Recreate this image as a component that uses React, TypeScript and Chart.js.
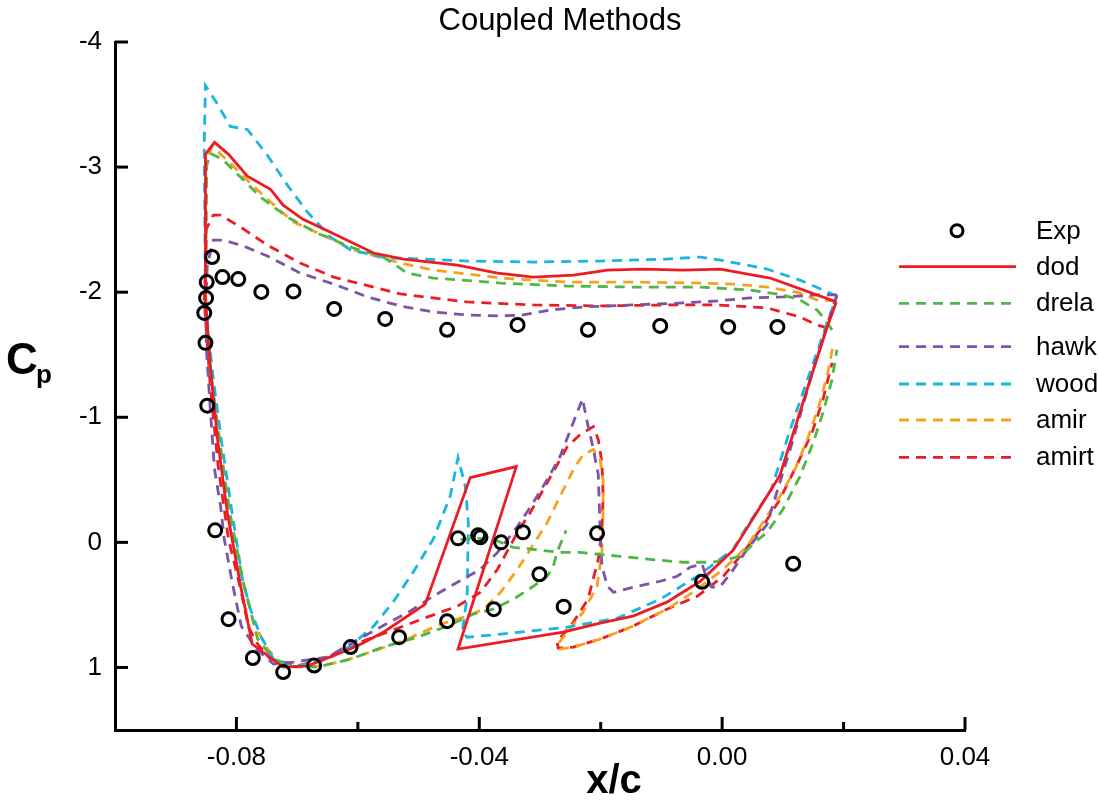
import React, { useEffect, useRef } from 'react';
import { Chart, registerables } from 'chart.js';

Chart.register(...registerables);

type P = [number, number | null];

// Experimental data (x/c, Cp)
const expData: P[] = [
  [-0.0840, -2.281], [-0.0849, -2.081], [-0.0823, -2.121], [-0.0797, -2.105], [-0.0850, -1.954],
  [-0.0853, -1.834], [-0.0759, -2.002], [-0.0706, -2.006], [-0.0639, -1.866], [-0.0555, -1.786],
  [-0.0453, -1.699], [-0.0337, -1.738], [-0.0221, -1.699], [-0.0102, -1.730], [0.0010, -1.722],
  [0.0091, -1.722], [-0.0851, -1.595], [-0.0848, -1.093], [-0.0835, -0.096], [-0.0813, 0.614],
  [-0.0773, 0.925], [-0.0723, 1.037], [-0.0672, 0.985], [-0.0612, 0.837], [-0.0532, 0.758],
  [-0.0453, 0.630], [-0.0376, 0.534], [-0.0435, -0.032], [-0.0402, -0.056], [-0.0398, -0.040],
  [-0.0364, 0.000], [-0.0328, -0.080], [-0.0301, 0.255], [-0.0261, 0.514], [-0.0206, -0.072],
  [-0.0033, 0.315], [0.0117, 0.171],
];

const dodData: P[] = [
  [0.0188, -1.922], [0.0079, -2.113], [-0.0003, -2.185], [-0.0064, -2.177], [-0.0130, -2.185],
  [-0.0189, -2.177], [-0.0245, -2.137], [-0.0311, -2.121], [-0.0370, -2.153], [-0.0436, -2.217],
  [-0.0525, -2.265], [-0.0574, -2.313], [-0.0645, -2.480], [-0.0691, -2.584], [-0.0723, -2.695],
  [-0.0744, -2.823], [-0.0782, -2.927], [-0.0813, -3.102], [-0.0836, -3.198], [-0.0851, -3.102],
  [-0.0851, -1.938], [-0.0843, -1.404], [-0.0831, -0.821], [-0.0815, -0.239], [-0.0793, 0.351],
  [-0.0774, 0.813], [-0.0723, 0.997], [-0.0683, 0.989], [-0.0601, 0.829], [-0.0558, 0.718],
  [-0.0489, 0.494], [-0.0415, -0.518], [-0.0339, -0.606], [-0.0435, 0.853], [-0.0262, 0.718],
  [-0.0201, 0.646], [-0.0147, 0.590], [-0.0091, 0.478], [-0.0036, 0.311], [0.0018, 0.064],
  [0.0095, -0.534], [0.0145, -1.300], [0.0173, -1.722], [0.0188, -1.922],
];

const drelaData: P[] = [
  [0.0181, -1.699], [0.0166, -1.802], [0.0156, -1.858], [0.0128, -1.938], [0.0100, -1.978],
  [0.0046, -2.018], [-0.0036, -2.041], [-0.0147, -2.041], [-0.0255, -2.049], [-0.0365, -2.073],
  [-0.0476, -2.113], [-0.0519, -2.153], [-0.0538, -2.217], [-0.0558, -2.281], [-0.0607, -2.352],
  [-0.0667, -2.472], [-0.0716, -2.600], [-0.0760, -2.759], [-0.0793, -2.919], [-0.0823, -3.062],
  [-0.0843, -3.110], [-0.0849, -3.014], [-0.0851, -1.938], [-0.0843, -1.380], [-0.0828, -0.821],
  [-0.0812, -0.263], [-0.0790, 0.295], [-0.0765, 0.774], [-0.0739, 0.933], [-0.0711, 0.989],
  [-0.0667, 0.997], [-0.0612, 0.933], [-0.0558, 0.837], [-0.0502, 0.758], [-0.0453, 0.670],
  [-0.0410, 0.574], [-0.0377, 0.534], [-0.0344, 0.455], [-0.0311, 0.351], [-0.0288, 0.271],
  [-0.0278, 0.191], [-0.0272, 0.080], [-0.0257, -0.096],
  [-0.0257, null],
  [-0.0431, -0.024], [-0.0403, -0.032], [-0.0377, -0.024], [-0.0344, 0.040], [-0.0311, 0.056],
  [-0.0267, 0.080], [-0.0234, 0.080], [-0.0168, 0.112], [-0.0119, 0.136], [-0.0064, 0.159],
  [-0.0015, 0.159], [0.0030, 0.112], [0.0054, 0.000], [0.0074, -0.080], [0.0100, -0.263],
  [0.0128, -0.526], [0.0150, -0.797], [0.0166, -1.037], [0.0181, -1.300], [0.0189, -1.539],
];

const hawkData: P[] = [
  [0.0189, -1.978], [0.0156, -1.978], [0.0100, -1.962], [0.0046, -1.954], [-0.0008, -1.930],
  [-0.0064, -1.914], [-0.0147, -1.898], [-0.0229, -1.882], [-0.0283, -1.858], [-0.0328, -1.818],
  [-0.0365, -1.810], [-0.0420, -1.818], [-0.0476, -1.842], [-0.0530, -1.890], [-0.0584, -1.962],
  [-0.0640, -2.065], [-0.0695, -2.153], [-0.0749, -2.289], [-0.0788, -2.368], [-0.0821, -2.416],
  [-0.0838, -2.416], [-0.0848, -2.217], [-0.0851, -1.858], [-0.0849, -1.515], [-0.0843, -1.061],
  [-0.0836, -0.582], [-0.0826, -0.287], [-0.0820, -0.024], [-0.0807, 0.319], [-0.0792, 0.670],
  [-0.0767, 0.853], [-0.0739, 0.973], [-0.0706, 0.957], [-0.0650, 0.917], [-0.0607, 0.797],
  [-0.0563, 0.678], [-0.0514, 0.550], [-0.0476, 0.431], [-0.0436, 0.319], [-0.0398, 0.215],
  [-0.0370, 0.080], [-0.0337, -0.128], [-0.0311, -0.319], [-0.0288, -0.502], [-0.0267, -0.686],
  [-0.0230, -1.148], [-0.0222, -0.957], [-0.0212, -0.742], [-0.0204, -0.542], [-0.0201, -0.104],
  [-0.0198, 0.191], [-0.0189, 0.351], [-0.0179, 0.399], [-0.0147, 0.359], [-0.0102, 0.311],
  [-0.0074, 0.271], [-0.0053, 0.199], [-0.0033, 0.175], [-0.0026, 0.279], [-0.0016, 0.359],
  [-0.0003, 0.351], [0.0013, 0.255], [0.0041, 0.056], [0.0074, -0.144], [0.0095, -0.478],
  [0.0112, -0.742], [0.0150, -1.380], [0.0173, -1.738], [0.0189, -1.978],
];

const woodData: P[] = [
  [0.0189, -1.970], [0.0128, -2.097], [0.0074, -2.185], [-0.0003, -2.257], [-0.0036, -2.281],
  [-0.0091, -2.265], [-0.0201, -2.249], [-0.0311, -2.241], [-0.0420, -2.249], [-0.0530, -2.273],
  [-0.0551, -2.273], [-0.0612, -2.337], [-0.0645, -2.440], [-0.0683, -2.640], [-0.0716, -2.855],
  [-0.0749, -3.094], [-0.0782, -3.301], [-0.0810, -3.325], [-0.0835, -3.533], [-0.0851, -3.652],
  [-0.0853, -3.190], [-0.0851, -1.938], [-0.0840, -1.380], [-0.0825, -0.821], [-0.0808, -0.263],
  [-0.0790, 0.295], [-0.0777, 0.534], [-0.0760, 0.750], [-0.0739, 0.933], [-0.0700, 0.989],
  [-0.0650, 0.933], [-0.0612, 0.829], [-0.0574, 0.670], [-0.0542, 0.478], [-0.0509, 0.239],
  [-0.0476, -0.024], [-0.0448, -0.367], [-0.0435, -0.678], [-0.0423, -0.447], [-0.0418, -0.159],
  [-0.0420, 0.431], [-0.0428, 0.718], [-0.0420, 0.758], [-0.0365, 0.734], [-0.0255, 0.678],
  [-0.0173, 0.606], [-0.0102, 0.455], [-0.0041, 0.271], [0.0018, 0.056], [0.0041, -0.128],
  [0.0081, -0.423], [0.0112, -0.901], [0.0150, -1.435], [0.0173, -1.754], [0.0189, -1.970],
];

const amirData: P[] = [
  [0.0186, -1.930], [0.0156, -1.938], [0.0128, -1.994], [0.0074, -2.041], [0.0018, -2.065],
  [-0.0036, -2.073], [-0.0147, -2.081], [-0.0255, -2.081], [-0.0365, -2.113], [-0.0476, -2.177],
  [-0.0530, -2.233], [-0.0607, -2.337], [-0.0650, -2.440], [-0.0706, -2.560], [-0.0749, -2.743],
  [-0.0782, -2.895], [-0.0815, -3.054], [-0.0840, -3.166], [-0.0849, -3.054], [-0.0851, -1.938],
  [-0.0843, -1.380], [-0.0828, -0.821], [-0.0812, -0.263], [-0.0790, 0.295], [-0.0772, 0.638],
  [-0.0749, 0.853], [-0.0728, 0.957], [-0.0700, 0.997], [-0.0667, 0.989], [-0.0629, 0.957],
  [-0.0574, 0.869], [-0.0519, 0.774], [-0.0464, 0.654], [-0.0420, 0.590], [-0.0393, 0.534],
  [-0.0365, 0.399], [-0.0337, 0.215], [-0.0316, 0.056], [-0.0288, -0.159], [-0.0267, -0.367],
  [-0.0245, -0.582], [-0.0229, -0.702], [-0.0212, -0.742], [-0.0201, -0.662], [-0.0196, -0.502],
  [-0.0196, -0.263], [-0.0198, 0.080], [-0.0206, 0.351], [-0.0229, 0.558], [-0.0255, 0.718],
  [-0.0272, 0.821], [-0.0267, 0.853], [-0.0245, 0.837], [-0.0201, 0.774], [-0.0147, 0.670],
  [-0.0091, 0.534], [-0.0048, 0.399], [0.0002, 0.215], [0.0041, 0.032], [0.0067, -0.159],
  [0.0095, -0.367], [0.0120, -0.582], [0.0142, -0.845], [0.0161, -1.116], [0.0174, -1.356],
  [0.0183, -1.579],
];

const amirtData: P[] = [
  [0.0174, -1.715], [0.0156, -1.738], [0.0128, -1.802], [0.0074, -1.874], [-0.0008, -1.898],
  [-0.0091, -1.898], [-0.0201, -1.890], [-0.0311, -1.898], [-0.0420, -1.922], [-0.0476, -1.954],
  [-0.0530, -1.986], [-0.0568, -2.033], [-0.0640, -2.121], [-0.0695, -2.233], [-0.0749, -2.376],
  [-0.0793, -2.520], [-0.0826, -2.616], [-0.0838, -2.616], [-0.0849, -2.512], [-0.0853, -1.938],
  [-0.0843, -1.244], [-0.0830, -0.606], [-0.0813, -0.024], [-0.0793, 0.375], [-0.0780, 0.678],
  [-0.0765, 0.813], [-0.0744, 0.933], [-0.0700, 0.989], [-0.0657, 0.933], [-0.0596, 0.797],
  [-0.0547, 0.710], [-0.0486, 0.598], [-0.0436, 0.510], [-0.0398, 0.399], [-0.0370, 0.215],
  [-0.0337, -0.080], [-0.0316, -0.239], [-0.0288, -0.478], [-0.0255, -0.766], [-0.0234, -0.861],
  [-0.0212, -0.925], [-0.0204, -0.821], [-0.0198, -0.638], [-0.0196, -0.367], [-0.0198, -0.104],
  [-0.0204, 0.136], [-0.0221, 0.455], [-0.0245, 0.638], [-0.0272, 0.797], [-0.0270, 0.845],
  [-0.0245, 0.837], [-0.0201, 0.774], [-0.0147, 0.670], [-0.0091, 0.534], [-0.0041, 0.431],
  [0.0002, 0.271], [0.0035, 0.080], [0.0067, -0.128], [0.0095, -0.343], [0.0125, -0.638],
  [0.0148, -0.877], [0.0166, -1.140], [0.0181, -1.435],
];

const seriesNames = ['Exp', 'dod', 'drela', 'hawk', 'wood', 'amir', 'amirt'];
const seriesColors = ['#000000', '#ED1C24', '#4DB848', '#7E54A6', '#17B7E0', '#F8A11C', '#ED1C24'];
const seriesDash: number[][] = [[], [], [10, 7], [10, 7], [10, 7], [10, 7], [10, 7]];
const seriesData: P[][] = [expData, dodData, drelaData, hawkData, woodData, amirData, amirtData];

const xTickStep = 0.02;
const yTickStep = 1;
const xMin = -0.1, xMax = 0.04, yMin = -4, yMax = 1.5;

const FONT = '"Liberation Sans", Arial, Helvetica, sans-serif';

const legendRows = [230.7, 266.7, 303.3, 346.7, 384, 420, 457.3];

const decorPlugin = {
  id: 'decor',
  afterDraw(chart: any) {
    const ctx: CanvasRenderingContext2D = chart.ctx;
    const area = chart.chartArea;
    const xs = chart.scales.x;
    const ys = chart.scales.y;
    ctx.save();
    ctx.strokeStyle = '#000';
    ctx.lineWidth = 3;
    ctx.lineCap = 'butt';
    ys.ticks.forEach((t: any) => {
      const py = ys.getPixelForValue(t.value);
      ctx.beginPath();
      ctx.moveTo(area.left, py);
      ctx.lineTo(area.left + 13, py);
      ctx.stroke();
    });
    xs.ticks.forEach((t: any) => {
      const px = xs.getPixelForValue(t.value);
      if (px < area.left + 2) return;
      const k = Math.round(t.value / xTickStep);
      const len = k % 2 === 0 ? 13 : 8;
      ctx.beginPath();
      ctx.moveTo(px, area.bottom);
      ctx.lineTo(px, area.bottom - len);
      ctx.stroke();
    });

    // Title
    ctx.fillStyle = '#000';
    ctx.textAlign = 'center';
    ctx.textBaseline = 'middle';
    ctx.font = `31px ${FONT}`;
    ctx.fillText('Coupled Methods', 560, 21);

    // x axis title
    ctx.font = `bold 40px ${FONT}`;
    ctx.textBaseline = 'alphabetic';
    ctx.fillText('x/c', 614, 793);

    // y axis title C_p
    ctx.textAlign = 'left';
    ctx.font = `bold 44px ${FONT}`;
    ctx.fillText('C', 6, 374);
    ctx.font = `bold 26px ${FONT}`;
    ctx.fillText('p', 36, 383);

    // Legend
    ctx.font = `26px ${FONT}`;
    ctx.textBaseline = 'middle';
    seriesNames.forEach((name, i) => {
      const y = legendRows[i];
      ctx.strokeStyle = seriesColors[i];
      if (i === 0) {
        ctx.lineWidth = 3;
        ctx.setLineDash([]);
        ctx.beginPath();
        ctx.arc(957, y, 6, 0, Math.PI * 2);
        ctx.stroke();
      } else {
        ctx.lineWidth = 2.8;
        ctx.setLineDash(seriesDash[i]);
        ctx.beginPath();
        ctx.moveTo(899, y);
        ctx.lineTo(1016, y);
        ctx.stroke();
      }
      ctx.setLineDash([]);
      ctx.fillStyle = '#000';
      ctx.fillText(name, 1036, y + 1);
    });
    ctx.restore();
  },
};

export default function App() {
  const canvasRef = useRef<HTMLCanvasElement | null>(null);

  useEffect(() => {
    if (!canvasRef.current) return;
    const datasets: any[] = seriesData.map((d, i) => {
      const pts = d.map(([x, y]) => ({ x, y }));
      if (i === 0) {
        return {
          label: seriesNames[i],
          data: pts,
          showLine: false,
          pointRadius: 6.5,
          pointBorderWidth: 3,
          pointBackgroundColor: 'rgba(0,0,0,0)',
          pointBorderColor: '#000',
          borderColor: '#000',
        };
      }
      return {
        label: seriesNames[i],
        data: pts,
        showLine: true,
        spanGaps: false,
        pointRadius: 0,
        borderColor: seriesColors[i],
        borderWidth: 2.8,
        borderDash: seriesDash[i],
        fill: false,
        tension: 0,
      };
    });

    const chart = new Chart(canvasRef.current, {
      type: 'scatter',
      data: { datasets },
      options: {
        animation: false,
        responsive: false,
        maintainAspectRatio: false,
        layout: { padding: { top: 42, right: 134, left: 0, bottom: 0 } },
        plugins: {
          legend: { display: false },
          title: { display: false },
          tooltip: { enabled: false },
        },
        scales: {
          x: {
            type: 'linear',
            min: xMin,
            max: xMax,
            grid: { display: false, drawTicks: false },
            border: { display: true, color: '#000', width: 3 },
            ticks: {
              stepSize: xTickStep,
              includeBounds: false,
              autoSkip: false,
              maxRotation: 0,
              padding: 12,
              color: '#000',
              font: { family: FONT, size: 26 },
              callback: (v: any) => {
                const k = Math.round(Number(v) / xTickStep);
                if (k % 2 !== 0) return '';
                return (k * xTickStep).toFixed(2);
              },
            },
            afterFit: (s: any) => { s.height = 72; },
          },
          y: {
            type: 'linear',
            min: yMin,
            max: yMax,
            reverse: true,
            grid: { display: false, drawTicks: false },
            border: { display: true, color: '#000', width: 3 },
            ticks: {
              stepSize: yTickStep,
              includeBounds: false,
              autoSkip: false,
              padding: 13,
              color: '#000',
              font: { family: FONT, size: 26 },
              callback: (v: any) => String(Math.round(Number(v))),
            },
            afterFit: (s: any) => { s.width = 115; },
          },
        },
      },
      plugins: [decorPlugin],
    });
    return () => chart.destroy();
  }, []);

  return (
    <div style={{ position: 'fixed', left: 0, top: 0, width: 1099, height: 802, background: '#fff' }}>
      <canvas ref={canvasRef} width={1099} height={802} style={{ width: 1099, height: 802, display: 'block' }} />
    </div>
  );
}
